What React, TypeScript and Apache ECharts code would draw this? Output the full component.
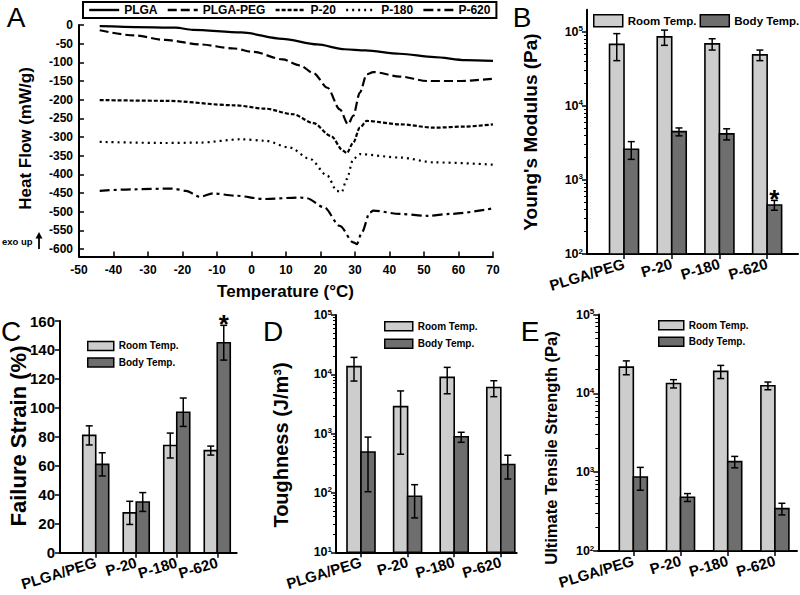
import React, { useEffect, useRef } from "react";
import * as echarts from "echarts";

const FONT = "'Liberation Sans', Arial, Helvetica, sans-serif";
const LIGHT = "#cdcdcd";
const DARK = "#6e6e6e";

// ---------- Panel A: DSC heat flow curves ----------
const plgaT = [-44, -22, -17, -3, 9, 19, 27, 33, 43, 53, 62, 70];
const plgaV = [-3, -7, -13, -20, -37, -52, -65, -68, -77, -86, -94, -96];

const pegT = [-44, -34, -25, -15, -5, 0.5, 9, 14, 18, 22, 25.6, 28, 29.5, 31.4, 33.4, 35.3, 43, 51, 60, 70];
const pegV = [-14, -28, -40, -52, -63, -72, -92, -108, -129, -168, -226, -266, -243, -181, -132, -126, -138, -150, -150, -144];

const p20T = [-44, -25, -5, 4, 12, 18, 23, 26.6, 27.6, 29.5, 31.4, 33.4, 43, 53, 62, 70];
const p20V = [-201, -203, -215, -224, -239, -263, -297, -337, -343, -315, -275, -257, -266, -275, -272, -266];

const p180T = [-44, -25, -15, -3, 4, 11, 17, 22, 24.7, 26.1, 27.6, 29.5, 31.4, 43, 53, 70];
const p180V = [-313, -316, -315, -306, -310, -328, -359, -404, -444, -448, -413, -359, -346, -355, -368, -374];

const p620T = [-44, -34, -23, -19, -15, -11, -5, 4, 14, 16, 21, 25.6, 29.5, 30.5, 32, 34.3, 35.3, 43, 51, 57.5, 70];
const p620V = [-444, -440, -438, -444, -460, -451, -457, -466, -462, -464, -488, -538, -582, -587, -555, -502, -497, -506, -511, -506, -491];

const heatTicks = [0, -50, -100, -150, -200, -250, -300, -350, -400, -450, -500, -550, -600];

// ---------- Bar panels ----------
const categories = ["PLGA/PEG", "P-20", "P-180", "P-620"];
const catPos = [1, 2, 3, 4];

// B: Young's modulus (Pa)
const modulusRoom = [68000, 86000, 69000, 49000];
const modulusRoomErr = [27000, 20000, 12000, 8000];
const modulusBody = [2600, 4500, 4200, 460];
const modulusBodyErr = [700, 550, 720, 70];
const modulusSig = [0, 0, 0, 1];

// C: failure strain (%)
const strainRoom = [81, 27.5, 74, 70.5];
const strainRoomErr = [6.6, 8, 8.6, 3.1];
const strainBody = [61, 35, 97, 145];
const strainBodyErr = [8, 6.5, 9.8, 12];
const strainSig = [0, 0, 0, 1];

// D: toughness (J/m^3)
const toughRoom = [13500, 2850, 8900, 6000];
const toughRoomErr = [5800, 2400, 4200, 1800];
const toughBody = [490, 88, 885, 302];
const toughBodyErr = [385, 50, 170, 130];

// E: ultimate tensile strength (Pa)
const utsRoom = [21500, 13300, 19000, 12500];
const utsRoomErr = [4300, 1600, 3600, 1400];
const utsBody = [870, 480, 1360, 345];
const utsBodyErr = [280, 55, 225, 58];

const noSig = [0, 0, 0, 0];

// ---------- helpers ----------
const black = "#000";

function decadeList(lo: number, hi: number): number[] {
  const out: number[] = [];
  for (let n = lo; n <= hi; n++) out.push(n);
  return out;
}
function minorList(lo: number, hi: number, top: number): number[] {
  const out: number[] = [];
  for (let n = lo; n < hi; n++) {
    for (let k = 2; k <= 9; k++) {
      const v = Math.log10(k) + n;
      if (v < top - 1e-6) out.push(v);
    }
  }
  return out;
}

function makeRender(side: number, barW: number, log: boolean, fill: string) {
  return (params: any, api: any) => {
    const x = api.value(0) as number;
    const m = api.value(1) as number;
    const e = api.value(2) as number;
    const s = api.value(3) as number;
    const tf = (v: number) => (log ? Math.log10(v) : v);
    const cs = params.coordSys;
    const baseY = cs.y + cs.height;
    const pt = api.coord([x, tf(m)]);
    const hi = api.coord([x, tf(m + e)])[1];
    const lo = api.coord([x, tf(m - e)])[1];
    const x0 = side < 0 ? pt[0] - barW : pt[0];
    const cx = x0 + barW / 2;
    const ls = { stroke: black, lineWidth: 1.5 };
    const children: any[] = [
      { type: "rect", shape: { x: x0, y: pt[1], width: barW, height: baseY - pt[1] }, style: { fill, stroke: black, lineWidth: 1.6 } },
      { type: "line", shape: { x1: cx, y1: hi, x2: cx, y2: lo }, style: ls },
      { type: "line", shape: { x1: cx - 3.5, y1: hi, x2: cx + 3.5, y2: hi }, style: ls },
      { type: "line", shape: { x1: cx - 3.5, y1: lo, x2: cx + 3.5, y2: lo }, style: ls },
    ];
    if (s) {
      children.push({
        type: "text",
        style: {
          text: "*", x: cx, y: hi + 12, font: `bold 26px ${FONT}`, fill: black,
          align: "center", verticalAlign: "bottom", textAlign: "center", textVerticalAlign: "bottom",
        },
      });
    }
    return { type: "group", children };
  };
}

function barSeries(name: string, grid: number, yIdx: number, vals: number[], errs: number[], sig: number[], side: number, barW: number, log: boolean, fill: string) {
  return {
    type: "custom",
    name,
    xAxisIndex: grid,
    yAxisIndex: yIdx,
    itemStyle: { color: fill, borderColor: black, borderWidth: 1.5 },
    data: catPos.map((p, i) => [p, vals[i], errs[i], sig[i]]),
    renderItem: makeRender(side, barW, log, fill),
    silent: true,
  };
}

const catLabelStyle = {
  rotate: 17, margin: 9, fontSize: 15, fontWeight: "bold", color: black, fontFamily: FONT,
  hideOverlap: false, showMinLabel: true, showMaxLabel: true,
  formatter: (v: number) => categories[Math.round(v) - 1] ?? "",
};

// main x axis: line, ticks and odd category labels
function barX(grid: number, min: number, max: number) {
  return {
    type: "value", gridIndex: grid, min, max, position: "bottom",
    axisLine: { show: true, onZero: false, lineStyle: { color: black, width: 2 } },
    axisTick: { show: true, customValues: catPos, length: 5, lineStyle: { color: black, width: 1.5 } },
    axisLabel: { show: true, customValues: catPos.filter((_, i) => i % 2 === 0), ...catLabelStyle },
    splitLine: { show: false },
  };
}
// companion x axis carrying the even category labels
function barX2(grid: number, min: number, max: number) {
  return {
    type: "value", gridIndex: grid, min, max, position: "bottom", offset: 0,
    axisLine: { show: false, onZero: false },
    axisTick: { show: false },
    axisLabel: { show: true, customValues: catPos.filter((_, i) => i % 2 === 1), ...catLabelStyle },
    splitLine: { show: false },
  };
}

function logY(grid: number, lo: number, hi: number, max: number) {
  return {
    type: "value", gridIndex: grid, min: lo, max, position: "left",
    axisLine: { show: true, onZero: false, lineStyle: { color: black, width: 2 } },
    axisTick: { show: true, customValues: decadeList(lo, hi), length: 5, lineStyle: { color: black, width: 1.5 } },
    axisLabel: {
      show: true, customValues: decadeList(lo, hi), margin: 4,
      showMinLabel: true, showMaxLabel: true, hideOverlap: false,
      formatter: (v: number) => `{b|10}{s|${Math.round(v)}}`,
      rich: {
        b: { fontSize: 12.5, fontWeight: "bold", fontFamily: FONT, color: black, lineHeight: 14 },
        s: { fontSize: 8, fontWeight: "bold", fontFamily: FONT, color: black, verticalAlign: "top", lineHeight: 9 },
      },
    },
    splitLine: { show: false },
  };
}

function minorY(grid: number, lo: number, hi: number, max: number) {
  return {
    type: "value", gridIndex: grid, min: lo, max, position: "left", offset: 0,
    axisLine: { show: false, onZero: false },
    axisLabel: { show: false },
    axisTick: { show: true, customValues: minorList(lo, hi, max), length: 3, lineStyle: { color: black, width: 1 } },
    splitLine: { show: false },
  };
}

function barLegend(left: number, top: number, orient: string, w: number, h: number, gap: number, fs: number) {
  return {
    data: [
      { name: "Room Temp.", icon: "rect", itemStyle: { color: LIGHT, borderColor: black, borderWidth: 1.5 } },
      { name: "Body Temp.", icon: "rect", itemStyle: { color: DARK, borderColor: black, borderWidth: 1.5 } },
    ],
    left, top, orient, itemWidth: w, itemHeight: h, itemGap: gap, padding: 0,
    selectedMode: false,
    textStyle: { fontSize: fs, fontWeight: "bold", fontFamily: FONT, color: black, lineHeight: h },
  };
}

function txt(text: string, x: number, y: number, font: string, rotation = 0, align = "center") {
  return {
    type: "text", x, y, rotation,
    style: {
      text, font, fill: black,
      align, verticalAlign: "middle", textAlign: align, textVerticalAlign: "middle",
    },
  };
}

function buildOption(): any {
  const lineDefs = [
    { name: "PLGA", t: plgaT, v: plgaV, type: "solid" as any },
    { name: "PLGA-PEG", t: pegT, v: pegV, type: [9, 4] },
    { name: "P-20", t: p20T, v: p20V, type: [4, 2] },
    { name: "P-180", t: p180T, v: p180V, type: [2, 4] },
    { name: "P-620", t: p620T, v: p620V, type: [10, 4, 3, 4] },
  ];

  const lineSeries = lineDefs.map((d) => ({
    type: "line", name: d.name, xAxisIndex: 0, yAxisIndex: 0,
    data: d.t.map((t, i) => [t, d.v[i]]),
    showSymbol: false, symbol: "none", smooth: 0.3, smoothMonotone: "x",
    lineStyle: { color: black, width: 2.2, type: d.type },
    itemStyle: { color: black },
    silent: true,
  }));

  const logB = Math.log10(2e5);
  const xr = [
    [0.224, 4.647],
    [0.118, 4.48],
    [0.4635, 4.341],
    [0.258, 4.468],
  ];

  return {
    animation: false,
    backgroundColor: "#fff",
    grid: [
      { left: 79, top: 25, width: 414, height: 231.5 },
      { left: 587, top: 9.7, width: 211, height: 244.3 },
      { left: 60, top: 321, width: 176.7, height: 231.7 },
      { left: 336, top: 315, width: 180.7, height: 237.3 },
      { left: 598.3, top: 314.5, width: 198.7, height: 236.5 },
    ],
    xAxis: [
      {
        type: "value", gridIndex: 0, min: -50, max: 70, interval: 10,
        axisLine: { show: true, onZero: false, lineStyle: { color: black, width: 2 } },
        axisTick: { show: true, inside: true, length: 5, lineStyle: { color: black, width: 1.5 } },
        axisLabel: { margin: 7, fontSize: 12, fontWeight: "bold", color: black, fontFamily: FONT },
        splitLine: { show: false },
      },
      barX(1, xr[0][0], xr[0][1]),
      barX(2, xr[1][0], xr[1][1]),
      barX(3, xr[2][0], xr[2][1]),
      barX(4, xr[3][0], xr[3][1]),
      barX2(1, xr[0][0], xr[0][1]),
      barX2(2, xr[1][0], xr[1][1]),
      barX2(3, xr[2][0], xr[2][1]),
      barX2(4, xr[3][0], xr[3][1]),
    ],
    yAxis: [
      {
        type: "value", gridIndex: 0, min: -620, max: 0,
        axisLine: { show: true, onZero: false, lineStyle: { color: black, width: 2 } },
        axisTick: { show: true, inside: true, customValues: heatTicks, length: 5, lineStyle: { color: black, width: 1.5 } },
        axisLabel: { customValues: heatTicks, margin: 6, fontSize: 12, fontWeight: "bold", color: black, fontFamily: FONT },
        splitLine: { show: false },
      },
      logY(1, 2, 5, logB),
      {
        type: "value", gridIndex: 2, min: 0, max: 160, interval: 20,
        axisLine: { show: true, onZero: false, lineStyle: { color: black, width: 2 } },
        axisTick: { show: true, length: 5, lineStyle: { color: black, width: 1.5 } },
        axisLabel: { margin: 5, fontSize: 15, fontWeight: "bold", color: black, fontFamily: FONT },
        splitLine: { show: false },
      },
      logY(3, 1, 5, 5),
      logY(4, 2, 5, 5),
      minorY(1, 2, 6, logB),
      minorY(3, 1, 5, 5),
      minorY(4, 2, 5, 5),
    ],
    legend: [
      {
        data: lineDefs.map((d) => d.name),
        left: 83, top: 2, orient: "horizontal",
        itemWidth: 30, itemHeight: 14, itemGap: 9,
        padding: [2, 6, 2, 5],
        borderColor: black, borderWidth: 2,
        selectedMode: false,
        itemStyle: { opacity: 0 },
        lineStyle: { width: 2.4 },
        textStyle: { fontSize: 12, fontWeight: "bold", fontFamily: FONT, color: black },
      },
      barLegend(593, 14, "horizontal", 29, 12, 3, 11.5),
      barLegend(87, 340.7, "vertical", 26, 9, 6, 10),
      barLegend(384, 321, "vertical", 28, 9, 7, 10),
      barLegend(658, 320, "vertical", 25, 9, 6, 10),
    ],
    series: [
      ...lineSeries,
      barSeries("Room Temp.", 1, 1, modulusRoom, modulusRoomErr, noSig, -1, 14.5, true, LIGHT),
      barSeries("Body Temp.", 1, 1, modulusBody, modulusBodyErr, modulusSig, 1, 14.5, true, DARK),
      barSeries("Room Temp.", 2, 2, strainRoom, strainRoomErr, noSig, -1, 13, false, LIGHT),
      barSeries("Body Temp.", 2, 2, strainBody, strainBodyErr, strainSig, 1, 13, false, DARK),
      barSeries("Room Temp.", 3, 3, toughRoom, toughRoomErr, noSig, -1, 14, true, LIGHT),
      barSeries("Body Temp.", 3, 3, toughBody, toughBodyErr, noSig, 1, 14, true, DARK),
      barSeries("Room Temp.", 4, 4, utsRoom, utsRoomErr, noSig, -1, 14, true, LIGHT),
      barSeries("Body Temp.", 4, 4, utsBody, utsBodyErr, noSig, 1, 14, true, DARK),
    ],
    graphic: [
      txt("A", 16, 17, `28px ${FONT}`),
      txt("B", 522, 17, `28px ${FONT}`),
      txt("C", 11, 331, `28px ${FONT}`),
      txt("D", 273, 331, `28px ${FONT}`),
      txt("E", 530, 331, `28px ${FONT}`),
      txt("Heat Flow (mW/g)", 25, 138.5, `bold 17px ${FONT}`, Math.PI / 2),
      txt("Temperature (°C)", 285.5, 291.5, `bold 17px ${FONT}`),
      txt("Young's Modulus (Pa)", 530, 132, `bold 19px ${FONT}`, Math.PI / 2),
      txt("Failure Strain (%)", 18, 436, `bold 22px ${FONT}`, Math.PI / 2),
      txt("Toughness (J/m³)", 281, 445, `bold 20px ${FONT}`, Math.PI / 2),
      txt("Ultimate Tensile Strength (Pa)", 551, 448, `bold 16.5px ${FONT}`, Math.PI / 2),
      txt("exo up", 2, 241, `bold 9.5px ${FONT}`, 0, "left"),
      { type: "line", shape: { x1: 39, y1: 249, x2: 39, y2: 237 }, style: { stroke: black, lineWidth: 1.8 } },
      { type: "polygon", shape: { points: [[35.5, 238.5], [39, 232], [42.5, 238.5]] }, style: { fill: black } },
    ],
  };
}

export default function App() {
  const ref = useRef<HTMLDivElement>(null);
  useEffect(() => {
    if (!ref.current) return;
    const chart = echarts.init(ref.current, null, { renderer: "svg" });
    chart.setOption(buildOption());
    return () => chart.dispose();
  }, []);
  return (
    <div
      ref={ref}
      style={{ position: "fixed", left: 0, top: 0, width: 800, height: 595, background: "#fff" }}
    />
  );
}
